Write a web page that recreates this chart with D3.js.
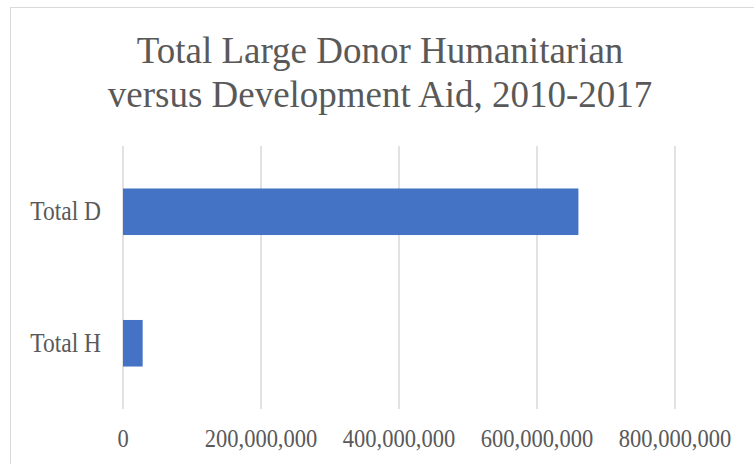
<!DOCTYPE html>
<html>
<head>
<meta charset="utf-8">
<script src="https://cdn.jsdelivr.net/npm/d3@7"></script>
<style>
  body { margin: 0; background: #fff; }
  text { font-family: "Liberation Serif", "Times New Roman", serif; }
</style>
</head>
<body>
<div id="chart"></div>
<script>
const categories = ['Total D', 'Total H'];
const values = [660000000, 28500000];
const xTicks = [0, 200000000, 400000000, 600000000, 800000000];
const titleLines = ['Total Large Donor Humanitarian', 'versus Development Aid, 2010-2017'];

const width = 754;
const height = 464;
const margin = { top: 146, right: 79, bottom: 55, left: 123 };

const svg = d3.select('#chart').append('svg')
  .attr('width', width)
  .attr('height', height);

// chart area border (only top/left visible in the crop)
svg.append('rect')
  .attr('x', 10.5).attr('y', 7.5)
  .attr('width', 800).attr('height', 500)
  .attr('fill', 'none')
  .attr('stroke', '#d9d9d9');

svg.append('g')
  .selectAll('text')
  .data(titleLines)
  .join('text')
  .attr('transform', (d, i) => `translate(380,${63 + i * 44}) scale(1,1.05)`)
  .attr('text-anchor', 'middle')
  .attr('fill', '#595959')
  .style('font-size', '37px')
  .text(d => d);

const x = d3.scaleLinear()
  .domain([0, 800000000])
  .range([margin.left, width - margin.right]);

const y = d3.scaleBand()
  .domain(categories)
  .range([margin.top, height - margin.bottom])
  .paddingInner(0.646)
  .paddingOuter(0.323);

// gridlines
svg.append('g')
  .selectAll('line')
  .data(xTicks)
  .join('line')
  .attr('x1', d => x(d)).attr('x2', d => x(d))
  .attr('y1', margin.top).attr('y2', height - margin.bottom)
  .attr('stroke', '#d9d9d9')
  .attr('stroke-width', 1.5);

svg.append('g')
  .selectAll('rect')
  .data(categories)
  .join('rect')
  .attr('x', x(0))
  .attr('y', d => y(d))
  .attr('width', (d, i) => x(values[i]) - x(0))
  .attr('height', y.bandwidth())
  .attr('fill', '#4472c4');

// labels look slightly stretched vertically in the original
const fmt = d3.format(',');
svg.append('g')
  .selectAll('text')
  .data(xTicks)
  .join('text')
  .attr('transform', d => `translate(${x(d)},447) scale(1,1.1)`)
  .attr('text-anchor', 'middle')
  .attr('fill', '#595959')
  .style('font-size', '22.5px')
  .text(d => fmt(d));

svg.append('g')
  .selectAll('text')
  .data(categories)
  .join('text')
  .attr('transform', d => `translate(101,${y(d) + y.bandwidth() / 2 + 8.7}) scale(1,1.12)`)
  .attr('text-anchor', 'end')
  .attr('fill', '#595959')
  .style('font-size', '23.5px')
  .text(d => d);
</script>
</body>
</html>
